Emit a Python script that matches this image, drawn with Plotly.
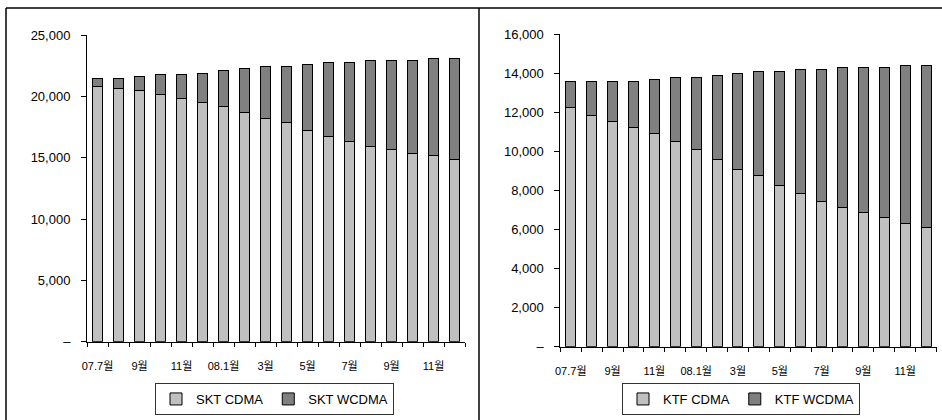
import plotly.graph_objects as go

# Monthly subscriber figures (thousands), Jul 2007 - Dec 2008
months = ["07.7", "07.8", "07.9", "07.10", "07.11", "07.12",
          "08.1", "08.2", "08.3", "08.4", "08.5", "08.6",
          "08.7", "08.8", "08.9", "08.10", "08.11", "08.12"]
month_labels = ["07.7월", "", "9월", "", "11월", "", "08.1월", "", "3월", "",
                "5월", "", "7월", "", "9월", "", "11월", ""]

skt_cdma = [20800, 20600, 20450, 20150, 19850, 19500, 19150, 18700, 18200,
            17900, 17250, 16750, 16300, 15950, 15650, 15350, 15150, 14850]
skt_wcdma = [650, 850, 1150, 1600, 1900, 2400, 2950, 3550, 4250,
             4550, 5350, 6000, 6450, 6950, 7250, 7550, 7900, 8200]

ktf_cdma = [12250, 11850, 11550, 11250, 10900, 10500, 10100, 9600, 9100,
            8750, 8250, 7850, 7450, 7150, 6850, 6600, 6300, 6100]
ktf_wcdma = [1350, 1750, 2050, 2350, 2800, 3300, 3700, 4300, 4900,
             5350, 5850, 6350, 6750, 7150, 7450, 7700, 8100, 8300]

skt_ticks = [0, 5000, 10000, 15000, 20000, 25000]
skt_ticktext = ["–", "5,000", "10,000", "15,000", "20,000", "25,000"]
ktf_ticks = [0, 2000, 4000, 6000, 8000, 10000, 12000, 14000, 16000]
ktf_ticktext = ["–", "2,000", "4,000", "6,000", "8,000", "10,000",
                "12,000", "14,000", "16,000"]

LIGHT = "#c0c0c0"
DARK = "#808080"
FONT = "Liberation Sans, Arial, Noto Sans CJK KR, sans-serif"
W, H = 942, 420

fig = go.Figure()

def add_pair(cdma, wcdma, names, xa, ya, legend):
    fig.add_trace(go.Bar(x=months, y=cdma, name=names[0], xaxis=xa, yaxis=ya,
                         marker=dict(color=LIGHT, line=dict(color="black", width=1)),
                         legend=legend))
    fig.add_trace(go.Bar(x=months, y=wcdma, name=names[1], xaxis=xa, yaxis=ya,
                         marker=dict(color=DARK, line=dict(color="black", width=1)),
                         legend=legend))

add_pair(skt_cdma, skt_wcdma, ["SKT CDMA", "SKT WCDMA"], "x", "y", "legend")
add_pair(ktf_cdma, ktf_wcdma, ["KTF CDMA", "KTF WCDMA"], "x2", "y2", "legend2")

def xaxis(dom, anchor):
    return dict(domain=dom, anchor=anchor, type="category",
                categoryorder="array", categoryarray=months,
                tickmode="array", tickvals=months, ticktext=month_labels,
                tickson="boundaries", ticks="outside", ticklen=4,
                tickcolor="black", showline=True, linecolor="black",
                linewidth=1, showgrid=False, ticklabelstandoff=14,
                tickangle=0, automargin=False,
                tickfont=dict(size=11, color="black", family=FONT))

def yaxis(dom, rng, vals, text, anchor):
    return dict(domain=dom, range=rng, tickmode="array", tickvals=vals,
                ticktext=text, anchor=anchor, ticks="outside", ticklen=5,
                tickcolor="black", showline=True, linecolor="black",
                linewidth=1, showgrid=False, zeroline=False,
                ticklabelstandoff=8, automargin=False,
                tickfont=dict(size=13, color="black", family=FONT))

def legend_at(px, py):
    return dict(orientation="h", xref="container", yref="container",
                x=px / W, y=1 - py / H, xanchor="left", yanchor="top",
                bgcolor="white", bordercolor="#333333", borderwidth=1,
                traceorder="normal",
                font=dict(size=13, color="black", family=FONT))

# panel frames
frame = dict(type="line", xref="paper", yref="paper",
             line=dict(color="black", width=1.5))
shapes = [
    dict(frame, x0=6 / W, x1=1, y0=1 - 8 / H, y1=1 - 8 / H),
    dict(frame, x0=6 / W, x1=6 / W, y0=0, y1=1 - 8 / H),
    dict(frame, x0=479 / W, x1=479 / W, y0=0, y1=1 - 8 / H),
]

fig.update_layout(
    width=W, height=H, margin=dict(l=0, r=0, t=0, b=0, autoexpand=False),
    paper_bgcolor="white", plot_bgcolor="white",
    barmode="stack", bargap=0.52,
    font=dict(family=FONT, color="black"),
    xaxis=xaxis([87 / W, 465 / W], "y"),
    yaxis=yaxis([1 - 341.7 / H, 1 - 35 / H], [0, 25000], skt_ticks, skt_ticktext, "x"),
    xaxis2=xaxis([560.3 / W, 936.5 / W], "y2"),
    yaxis2=yaxis([1 - 346.7 / H, 1 - 34.3 / H], [0, 16000], ktf_ticks, ktf_ticktext, "x2"),
    legend=legend_at(155, 383),
    legend2=legend_at(622, 383),
    shapes=shapes,
)

fig.write_html("out.html")
